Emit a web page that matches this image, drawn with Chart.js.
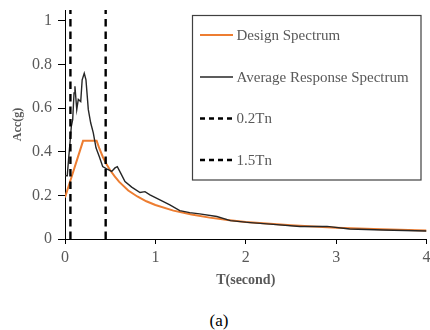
<!DOCTYPE html>
<html>
<head>
<meta charset="utf-8">
<script src="https://cdn.jsdelivr.net/npm/chart.js@4"></script>
<style>
  body { margin: 0; background: #fff; width: 430px; height: 330px; overflow: hidden; position: relative; }
  #wrap { position: absolute; left: 0; top: 0; width: 430px; height: 300px; }
  #caption { position: absolute; left: 0; top: 311px; width: 438px; text-align: center;
             font: 17px 'Liberation Serif', serif; color: #000; }
</style>
</head>
<body>
<div id="wrap"><canvas id="chart" width="430" height="300"></canvas></div>
<div id="caption">(a)</div>
<script>
// Period values (s) and spectral accelerations (g)
const designT   = [0, 0.2, 0.35, 0.38, 0.42, 0.46, 0.5, 0.55, 0.6, 0.7, 0.8, 0.9, 1.0, 1.2, 1.4, 1.6, 1.8, 2.0, 2.5, 3.0, 3.5, 4.0];
const designAcc = [0.19, 0.45, 0.45, 0.415, 0.375, 0.343, 0.315, 0.287, 0.262, 0.222, 0.195, 0.173, 0.156, 0.13, 0.112, 0.098, 0.087, 0.078, 0.063, 0.052, 0.045, 0.039];

const avgT   = [0, 0.025, 0.039, 0.055, 0.07, 0.085, 0.1, 0.11, 0.13, 0.147, 0.174, 0.19, 0.213, 0.232, 0.258, 0.284, 0.313, 0.343, 0.38, 0.417, 0.461, 0.517, 0.553, 0.579, 0.616, 0.664, 0.738, 0.83, 0.885, 0.94, 1.05, 1.16, 1.27, 1.38, 1.49, 1.68, 1.83, 2.05, 2.27, 2.6, 2.9, 3.15, 3.52, 4.0];
const avgAcc = [0.29, 0.29, 0.363, 0.44, 0.516, 0.547, 0.67, 0.70, 0.593, 0.64, 0.63, 0.73, 0.76, 0.73, 0.593, 0.533, 0.487, 0.418, 0.377, 0.332, 0.322, 0.31, 0.326, 0.332, 0.302, 0.263, 0.238, 0.213, 0.217, 0.202, 0.179, 0.156, 0.13, 0.121, 0.115, 0.103, 0.084, 0.075, 0.068, 0.057, 0.058, 0.046, 0.041, 0.037];

const markerT = [0.06, 0.45];   // 0.2Tn and 1.5Tn
const xTicks = [0, 1, 2, 3, 4];
const yTicks = [0, 0.2, 0.4, 0.6, 0.8, 1];

const serif = "'Liberation Serif', 'Times New Roman', serif";
const gray = '#595959';

const toPoints = (xs, ys) => xs.map((x, i) => ({ x: x, y: ys[i] }));
const vline = (x) => [{ x: x, y: 0 }, { x: x, y: 1.05 }];

// Boxed legend drawn inside the plot, like the original figure
const boxLegend = {
  id: 'boxLegend',
  afterDraw(chart) {
    const ctx = chart.ctx;
    const rows = [35, 77, 118.5, 160];
    ctx.save();
    ctx.fillStyle = '#fff';
    ctx.fillRect(192, 15, 229, 165);
    ctx.strokeStyle = '#404040';
    ctx.lineWidth = 1.2;
    ctx.strokeRect(192.5, 15.5, 228.5, 164.5);
    chart.data.datasets.forEach((ds, i) => {
      const y = rows[i];
      ctx.beginPath();
      ctx.setLineDash(ds.legendDash || []);
      ctx.strokeStyle = ds.borderColor;
      ctx.lineWidth = ds.borderWidth;
      ctx.moveTo(200, y);
      ctx.lineTo(233, y);
      ctx.stroke();
      ctx.setLineDash([]);
      ctx.fillStyle = gray;
      ctx.font = '15px ' + serif;
      ctx.textBaseline = 'middle';
      ctx.textAlign = 'left';
      ctx.fillText(ds.label, 236.5, y + 1);
    });
    ctx.restore();
  }
};

new Chart(document.getElementById('chart'), {
  type: 'line',
  data: {
    datasets: [
      { label: 'Design Spectrum', data: toPoints(designT, designAcc), borderColor: '#ED7D31', borderWidth: 2, pointRadius: 0, order: 3 },
      { label: 'Average Response Spectrum', data: toPoints(avgT, avgAcc), borderColor: '#262626', borderWidth: 1.4, pointRadius: 0, order: 2 },
      { label: '0.2Tn', data: vline(markerT[0]), borderColor: '#000', borderWidth: 2.4, borderDash: [7.5, 5], legendDash: [5, 4], pointRadius: 0, order: 1 },
      { label: '1.5Tn', data: vline(markerT[1]), borderColor: '#000', borderWidth: 2.4, borderDash: [7.5, 5], legendDash: [5, 4], pointRadius: 0, order: 0 }
    ]
  },
  options: {
    responsive: false,
    animation: false,
    devicePixelRatio: 1,
    layout: { padding: { top: 10, right: 3.5, left: 0, bottom: 0 } },
    plugins: { legend: { display: false }, tooltip: { enabled: false } },
    scales: {
      x: {
        type: 'linear', min: 0, max: 4,
        afterBuildTicks: (s) => { s.ticks = xTicks.map(v => ({ value: v })); },
        afterFit: (s) => { s.height = 61; s.paddingLeft = 0; s.paddingRight = 0; },
        ticks: { font: { family: serif, size: 16 }, color: gray, padding: 4, maxRotation: 0, callback: (v) => String(v) },
        grid: { drawOnChartArea: false, drawTicks: true, tickLength: 5, tickColor: '#000' },
        border: { color: '#000', width: 1 },
        title: { display: true, text: 'T(second)', color: gray, font: { family: serif, size: 14, weight: 'bold' }, padding: { top: 0, bottom: 11.5 } }
      },
      y: {
        type: 'linear', min: 0, max: 1.05,
        afterBuildTicks: (s) => { s.ticks = yTicks.map(v => ({ value: v })); },
        afterFit: (s) => { s.width = 65; s.paddingTop = 0; s.paddingBottom = 0; },
        ticks: { font: { family: serif, size: 16 }, color: gray, padding: 6, callback: (v) => String(+v.toFixed(1)) },
        grid: { drawOnChartArea: false, drawTicks: true, tickLength: 7, tickColor: '#000' },
        border: { color: '#000', width: 1 },
        title: { display: true, text: 'Acc(g)', color: gray, font: { family: serif, size: 12, weight: 'bold' }, padding: { top: 11, bottom: 0 } }
      }
    }
  },
  plugins: [boxLegend]
});
</script>
</body>
</html>
